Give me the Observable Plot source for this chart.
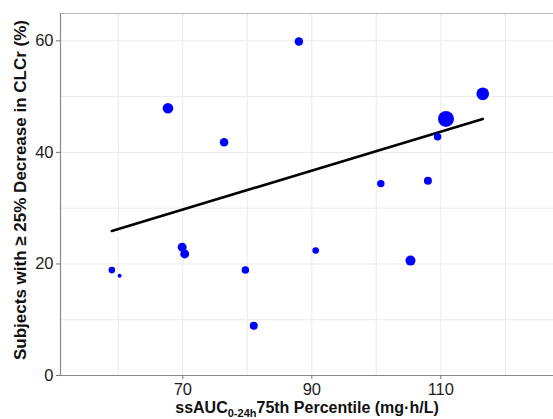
<!DOCTYPE html>
<html>
<head>
<meta charset="utf-8">
<script src="https://cdn.jsdelivr.net/npm/d3@7"></script>
<script src="https://cdn.jsdelivr.net/npm/@observablehq/plot@0.6"></script>
<style>
  html, body { margin: 0; padding: 0; background: white; }
  #chart { width: 553px; height: 419px; overflow: hidden; }
</style>
</head>
<body>
<div id="chart"></div>
<script>
// ssAUC 0-24h 75th percentile (mg·h/L)
const auc = [59.0, 60.2, 69.9, 70.3, 79.7, 81.0, 67.7, 76.4, 88.0, 110.8, 116.5, 109.5, 108.0, 100.7, 90.6, 105.3];
// Subjects with >= 25% decrease in CLCr (%)
const pct = [18.9, 17.9, 23.0, 21.8, 18.9, 8.9, 47.9, 41.8, 59.9, 46.0, 50.5, 42.8, 34.9, 34.4, 22.4, 20.6];
// number of subjects (point size)
const nSubj = [11, 4, 20, 20, 14, 16, 28, 18, 18, 64, 40, 14, 16, 14, 11, 25];
// fitted trend line
const fitX = [59.0, 116.5];
const fitY = [25.9, 46.0];
const xTicks = [70, 90, 110];
const yTicks = [0, 20, 40, 60];
const xGrid = [60, 70, 80, 90, 100, 110, 120];
const yGrid = [10, 20, 30, 40, 50, 60];

const points = auc.map((x, i) => ({x, y: pct[i], n: nSubj[i]}));
const fit = fitX.map((x, i) => ({x, y: fitY[i]}));

const xDomain = [51.04, 127.47];

const chart = Plot.plot({
  width: 553,
  height: 419,
  marginLeft: 60,
  marginRight: 0,
  marginTop: 13,
  marginBottom: 44,
  style: {fontFamily: "'Liberation Sans', Arial, sans-serif", background: "white", color: "#222"},
  x: {domain: xDomain, label: null, axis: null},
  y: {domain: [0, 64.9], label: null, axis: null},
  r: {type: "sqrt", domain: [0, 64], range: [0, 8]},
  marks: [
    Plot.gridX(xGrid, {stroke: "#ebebeb", strokeOpacity: 1, strokeWidth: 1}),
    Plot.gridY(yGrid, {stroke: "#ebebeb", strokeOpacity: 1, strokeWidth: 1}),
    Plot.frame({stroke: "#b8b8b8"}),
    Plot.ruleY([0], {stroke: "#8a8a8a", strokeWidth: 1.2}),
    Plot.ruleX([xDomain[0]], {stroke: "#8a8a8a", strokeWidth: 1.2}),
    Plot.axisX(xTicks, {tickSize: 4, tickPadding: 4, fontSize: 16.5, stroke: "#777", fill: "#1e1e1e", label: null}),
    Plot.axisY(yTicks, {tickSize: 4, tickPadding: 3, fontSize: 16.5, stroke: "#777", fill: "#1e1e1e", label: null}),
    Plot.line(fit, {x: "x", y: "y", stroke: "black", strokeWidth: 2.6}),
    Plot.dot(points, {x: "x", y: "y", r: "n", fill: "blue", stroke: "none"})
  ]
});

document.getElementById("chart").appendChild(chart);

const svg = d3.select(chart);
// y axis title
svg.append("text")
  .attr("transform", "translate(26,190) rotate(-90)")
  .attr("text-anchor", "middle")
  .attr("font-size", 17)
  .attr("font-weight", "bold")
  .attr("fill", "#111")
  .attr("font-family", "'Liberation Sans', Arial, sans-serif")
  .text("Subjects with \u2265 25% Decrease in CLCr (%)");

// x axis title
const xt = svg.append("text")
  .attr("x", 307)
  .attr("y", 413)
  .attr("text-anchor", "middle")
  .attr("font-size", 16)
  .attr("font-weight", "bold")
  .attr("fill", "#111")
  .attr("font-family", "'Liberation Sans', Arial, sans-serif");
xt.append("tspan").text("ssAUC");
xt.append("tspan").attr("font-size", 11).attr("dy", 3.5).text("0-24h");
xt.append("tspan").attr("dy", -3.5).text("75th Percentile (mg\u00b7h/L)");
</script>
</body>
</html>
